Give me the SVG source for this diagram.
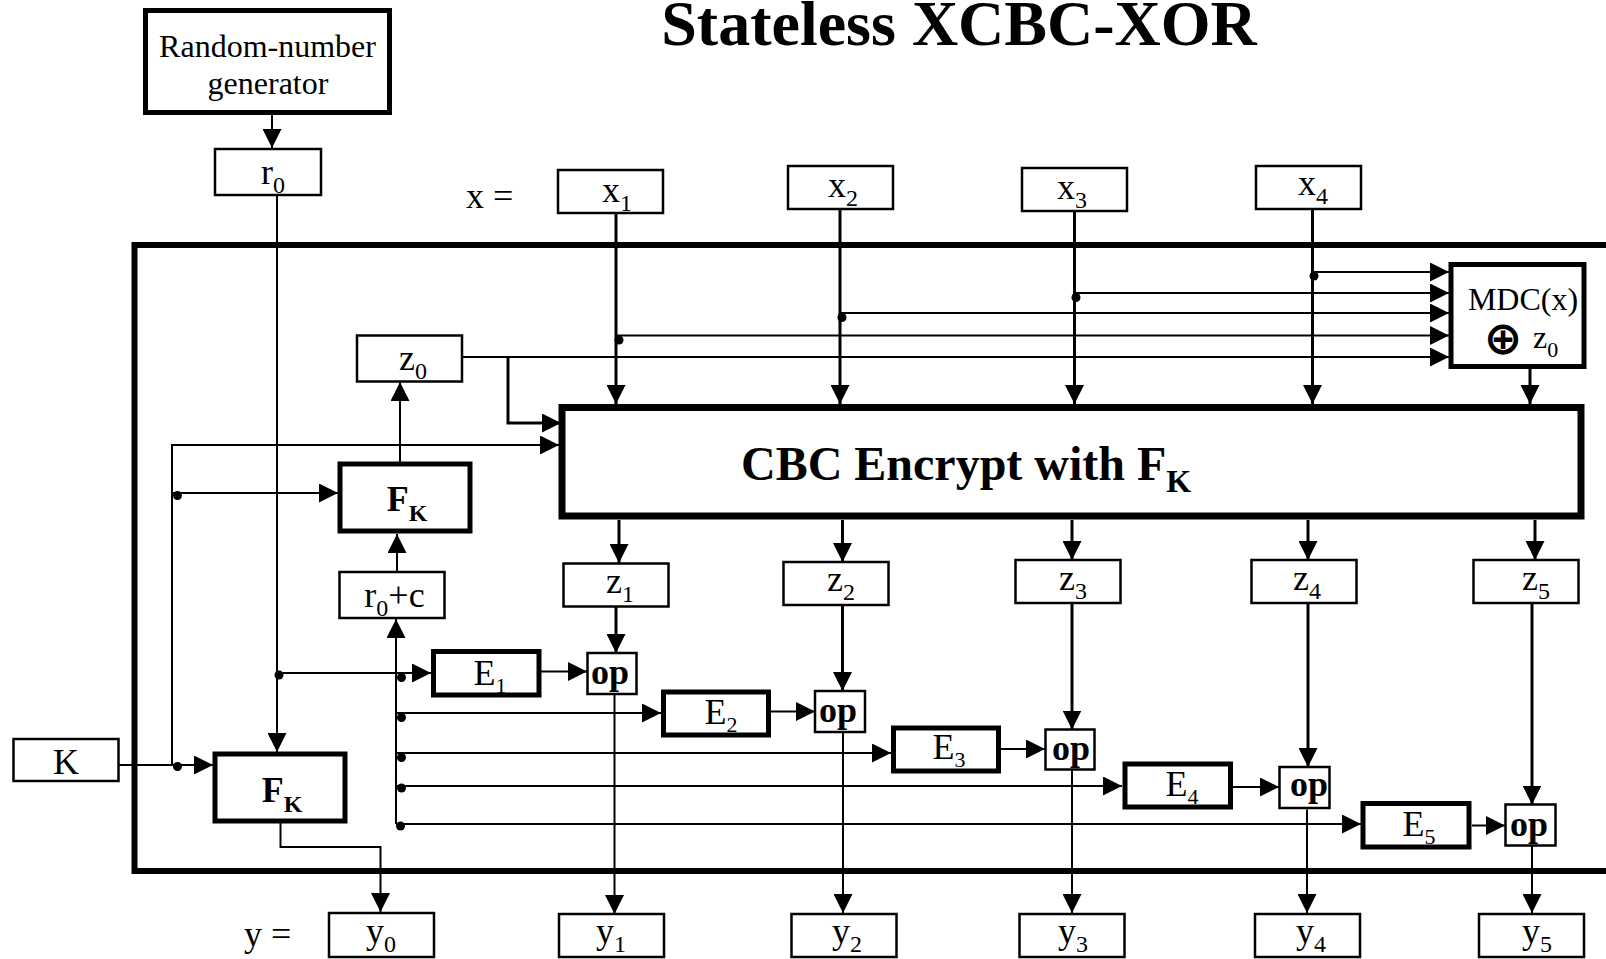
<svg xmlns="http://www.w3.org/2000/svg" width="1606" height="959" viewBox="0 0 1606 959">
<defs>
<style>
.bx{fill:#fff;stroke:#000;stroke-width:2.5}
.tk{fill:#fff;stroke:#000;stroke-width:5}
.ln{fill:none;stroke:#000;stroke-width:2}
.lw{fill:none;stroke:#000;stroke-width:3}
.t{font-family:"Liberation Serif","Times New Roman",serif;font-size:36px;fill:#000}
.m{font-size:32px}
.b{font-weight:bold}
</style>
<marker id="a" viewBox="0 0 20 20" refX="20" refY="10" markerWidth="19" markerHeight="19" markerUnits="userSpaceOnUse" orient="auto"><path d="M0,0 L20,10 L0,20 z" fill="#000"/></marker>
</defs>
<rect width="1606" height="959" fill="#fff"/>
<text id="title" class="t b" x="959" y="45" text-anchor="middle" style="font-size:64px">Stateless XCBC-XOR</text>
<rect id="frame" x="134.5" y="245" width="1500" height="626" fill="none" stroke="#000" stroke-width="6"/>
<g id="rng"><rect class="tk" x="145.5" y="10.5" width="244" height="102"/><text class="t m" x="267.5" y="57" text-anchor="middle">Random-number</text><text class="t m" x="268" y="94" text-anchor="middle">generator</text></g>
<g id="r0"><rect class="bx" x="215" y="149" width="106" height="46"/><text class="t" x="273" y="184" text-anchor="middle">r<tspan dy="9" font-size="24">0</tspan></text></g>
<text id="xeq" class="t" x="466" y="208">x =</text>
<g id="x1"><rect class="bx" x="558" y="170" width="105" height="43"/><text class="t" x="617" y="202" text-anchor="middle">x<tspan dy="9" font-size="24">1</tspan></text></g>
<g id="x2"><rect class="bx" x="788" y="166" width="105" height="43"/><text class="t" x="843" y="197" text-anchor="middle">x<tspan dy="9" font-size="24">2</tspan></text></g>
<g id="x3"><rect class="bx" x="1022" y="168" width="105" height="43"/><text class="t" x="1072" y="199" text-anchor="middle">x<tspan dy="9" font-size="24">3</tspan></text></g>
<g id="x4"><rect class="bx" x="1256" y="166" width="105" height="43"/><text class="t" x="1313" y="195" text-anchor="middle">x<tspan dy="9" font-size="24">4</tspan></text></g>
<g id="mdc"><rect class="tk" x="1451" y="264.5" width="133" height="102"/><text class="t m" x="1523" y="310" text-anchor="middle">MDC(x)</text><text x="1503" y="354" font-family="DejaVu Sans,sans-serif" font-weight="bold" font-size="46" text-anchor="middle">⊕</text><text class="t m" x="1533" y="348">z<tspan dy="9" font-size="22">0</tspan></text></g>
<g id="z0"><rect class="bx" x="357" y="335.5" width="105" height="46"/><text class="t" x="413" y="370" text-anchor="middle">z<tspan dy="9" font-size="24">0</tspan></text></g>
<g id="cbc"><rect x="562" y="407.5" width="1019" height="108.5" fill="#fff" stroke="#000" stroke-width="7"/><text class="t b" x="741" y="480" style="font-size:48px">CBC Encrypt with F<tspan dy="12" style="font-size:32px">K</tspan></text></g>
<g id="fk1"><rect class="tk" x="340" y="464" width="130" height="67"/><text class="t b" x="407" y="511" text-anchor="middle">F<tspan dy="10" font-size="24">K</tspan></text></g>
<g id="rc"><rect class="bx" x="339.5" y="572" width="105" height="46"/><text class="t" x="394.5" y="607" text-anchor="middle">r<tspan dy="9" font-size="24">0</tspan><tspan dy="-9">+c</tspan></text></g>
<g id="k"><rect class="bx" x="13.5" y="739" width="105" height="42"/><text class="t" x="66" y="774" text-anchor="middle">K</text></g>
<g id="fk2"><rect class="tk" x="215" y="754" width="130" height="67"/><text class="t b" x="282" y="802" text-anchor="middle">F<tspan dy="10" font-size="24">K</tspan></text></g>
<g id="z1"><rect class="bx" x="563.5" y="563.5" width="105" height="43"/><text class="t" x="620" y="593" text-anchor="middle">z<tspan dy="9" font-size="24">1</tspan></text></g>
<g id="z2"><rect class="bx" x="783.5" y="562" width="105" height="43"/><text class="t" x="841" y="591" text-anchor="middle">z<tspan dy="9" font-size="24">2</tspan></text></g>
<g id="z3"><rect class="bx" x="1015.5" y="560" width="105" height="43"/><text class="t" x="1073" y="590" text-anchor="middle">z<tspan dy="9" font-size="24">3</tspan></text></g>
<g id="z4"><rect class="bx" x="1251.5" y="560" width="105" height="43"/><text class="t" x="1307" y="590" text-anchor="middle">z<tspan dy="9" font-size="24">4</tspan></text></g>
<g id="z5"><rect class="bx" x="1473.5" y="560" width="105" height="43"/><text class="t" x="1536" y="590" text-anchor="middle">z<tspan dy="9" font-size="24">5</tspan></text></g>
<g id="e1"><rect class="tk" x="433.5" y="651.5" width="105.5" height="43.5"/><text class="t" x="490" y="685" text-anchor="middle">E<tspan dy="8" font-size="22">1</tspan></text></g>
<g id="e2"><rect class="tk" x="663.5" y="692" width="105" height="43"/><text class="t" x="721" y="724" text-anchor="middle">E<tspan dy="8" font-size="22">2</tspan></text></g>
<g id="e3"><rect class="tk" x="893.5" y="728" width="105" height="43"/><text class="t" x="949" y="759" text-anchor="middle">E<tspan dy="8" font-size="22">3</tspan></text></g>
<g id="e4"><rect class="tk" x="1125" y="764" width="105.5" height="43"/><text class="t" x="1182" y="796" text-anchor="middle">E<tspan dy="8" font-size="22">4</tspan></text></g>
<g id="e5"><rect class="tk" x="1363" y="803.5" width="106" height="43.5"/><text class="t" x="1419" y="836" text-anchor="middle">E<tspan dy="8" font-size="22">5</tspan></text></g>
<g id="op1"><rect class="bx" x="587.5" y="653" width="49" height="41"/><text class="t b" x="610" y="684" text-anchor="middle">op</text></g>
<g id="op2"><rect class="bx" x="815" y="691" width="50" height="41"/><text class="t b" x="838" y="722" text-anchor="middle">op</text></g>
<g id="op3"><rect class="bx" x="1045.5" y="729.5" width="49" height="40"/><text class="t b" x="1071" y="760" text-anchor="middle">op</text></g>
<g id="op4"><rect class="bx" x="1279.5" y="767" width="50" height="41"/><text class="t b" x="1309" y="796" text-anchor="middle">op</text></g>
<g id="op5"><rect class="bx" x="1505.5" y="804.5" width="50" height="41"/><text class="t b" x="1529" y="836" text-anchor="middle">op</text></g>
<text id="yeq" class="t" x="244" y="946">y =</text>
<g id="y0"><rect class="bx" x="329" y="913" width="105" height="44"/><text class="t" x="381" y="943" text-anchor="middle">y<tspan dy="9" font-size="24">0</tspan></text></g>
<g id="y1"><rect class="bx" x="559" y="914" width="105" height="43"/><text class="t" x="611" y="943" text-anchor="middle">y<tspan dy="9" font-size="24">1</tspan></text></g>
<g id="y2"><rect class="bx" x="791.5" y="914" width="105" height="43"/><text class="t" x="847" y="943" text-anchor="middle">y<tspan dy="9" font-size="24">2</tspan></text></g>
<g id="y3"><rect class="bx" x="1019.5" y="914" width="105" height="43"/><text class="t" x="1073" y="943" text-anchor="middle">y<tspan dy="9" font-size="24">3</tspan></text></g>
<g id="y4"><rect class="bx" x="1255" y="914" width="105" height="43"/><text class="t" x="1311" y="943" text-anchor="middle">y<tspan dy="9" font-size="24">4</tspan></text></g>
<g id="y5"><rect class="bx" x="1479" y="914" width="105" height="43"/><text class="t" x="1537" y="943" text-anchor="middle">y<tspan dy="9" font-size="24">5</tspan></text></g>
<g id="connectors" marker-end="url(#a)">
<path class="ln" d="M272,113 V148"/>
<path class="ln" d="M277,196 V752"/>
<path class="ln" d="M277,673 H431"/>
<path class="ln" d="M119,765 H213"/>
<path class="ln" d="M172,765 V445 H559"/>
<path class="ln" d="M172,493 H338"/>
<path class="ln" d="M400,462 V382"/>
<path class="ln" d="M397,572 V534"/>
<path class="ln" d="M396,824 V619"/>
<path class="ln" d="M396,713 H661"/>
<path class="ln" d="M396,753 H891"/>
<path class="ln" d="M396,786 H1122"/>
<path class="ln" d="M396,824 H1361"/>
<path class="ln" d="M541,671.5 H587"/>
<path class="ln" d="M771,711.5 H815"/>
<path class="ln" d="M1001,749 H1045"/>
<path class="ln" d="M1233,787 H1279"/>
<path class="ln" d="M1472,825.5 H1505"/>
<path class="lw" d="M616,607 V653"/>
<path class="lw" d="M842.5,605 V691"/>
<path class="lw" d="M1072,603 V729.5"/>
<path class="lw" d="M1308,603 V767"/>
<path class="lw" d="M1532,603 V804.5"/>
<path class="ln" d="M614.5,694 V914"/>
<path class="ln" d="M843,732.5 V913"/>
<path class="ln" d="M1072,770.5 V913"/>
<path class="ln" d="M1307,809.5 V913"/>
<path class="ln" d="M1532,846 V913"/>
<path class="lw" d="M619,520 V563"/>
<path class="lw" d="M842.5,520 V562"/>
<path class="lw" d="M1072,520 V560"/>
<path class="lw" d="M1308,520 V560"/>
<path class="lw" d="M1535,520 V560"/>
<path class="lw" d="M616,213 V404"/>
<path class="lw" d="M840,209 V404"/>
<path class="lw" d="M1074.5,211 V404"/>
<path class="lw" d="M1312.5,209 V404"/>
<path class="ln" d="M1312.5,272 H1449"/>
<path class="ln" d="M1074.5,293 H1449"/>
<path class="ln" d="M840,313 H1449"/>
<path class="ln" d="M616,335.5 H1449"/>
<path class="ln" d="M462,357 H1449"/>
<path class="lw" d="M1530,369 V404"/>
<path class="lw" d="M508,357 V423 H561"/>
<path class="ln" d="M280.5,822 V847 H380.5 V912"/>
</g>
<g id="dots" fill="#000">
<circle cx="279" cy="675" r="4.5"/><circle cx="177.5" cy="766.5" r="4.5"/><circle cx="177.5" cy="495.5" r="4.5"/>
<circle cx="401.5" cy="677.5" r="4.5"/><circle cx="401.5" cy="717.5" r="4.5"/><circle cx="401.5" cy="757.5" r="4.5"/><circle cx="401.5" cy="788" r="4.5"/><circle cx="400.5" cy="826" r="4.5"/>
<circle cx="619" cy="340" r="4.5"/><circle cx="842" cy="317.5" r="4.5"/><circle cx="1076" cy="297.5" r="4.5"/><circle cx="1314" cy="276" r="4.5"/>
</g>
</svg>
